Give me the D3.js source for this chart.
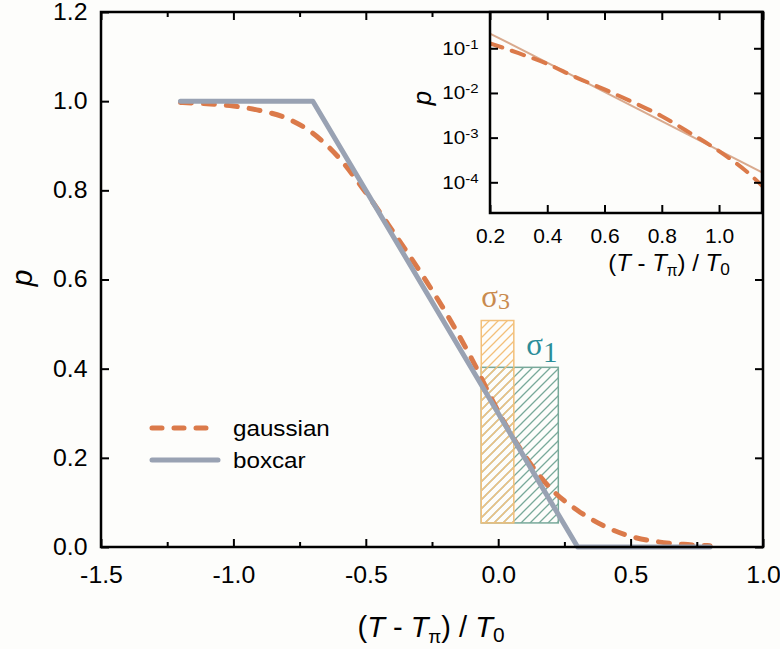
<!DOCTYPE html>
<html>
<head>
<meta charset="utf-8">
<script src="https://cdn.jsdelivr.net/npm/d3@7"></script>
<style>
body{margin:0;background:#fdfdfb;}
svg{display:block;}
text{font-family:"Liberation Sans",Arial,sans-serif;}
</style>
</head>
<body>
<script>

// main panel: survival probability vs (T - Tpi)/T0
var gaussX = [-1.2,-1.1,-1.0,-0.9,-0.8,-0.7,-0.6,-0.5,-0.4,-0.3,-0.2,-0.1,0.0,0.1,0.2,0.3,0.4,0.5,0.6,0.7,0.8];
var gaussP = [0.997,0.994,0.989,0.979,0.962,0.928,0.872,0.795,0.710,0.622,0.528,0.422,0.304,0.205,0.130,0.082,0.047,0.024,0.012,0.006,0.003];
var boxX = [-1.2,-0.7,0.3,0.8];
var boxP = [1,1,0,0];

// inset: gaussian tail on log scale and its exponential fit
var tailX = [0.2,0.3,0.4,0.5,0.6,0.7,0.8,0.9,1.0,1.1,1.2];
var tailP = [0.129,0.0776,0.0447,0.0224,0.0120,0.00617,0.00302,0.00126,0.00050,0.000166,0.00004];
var fitX = [0.2,1.15];
var fitP = [0.214,0.000166];

// hatched sigma boxes
var sigmaSub = ["1","3"];
var sigmaLeft = [-0.064,-0.064];
var sigmaRight = [0.227,0.059];
var sigmaTop = [0.403,0.508];
var sigmaBottom = [0.054,0.054];

// ticks
var xTicks = [-1.5,-1.0,-0.5,0.0,0.5,1.0];
var xMinor = [-1.25,-0.75,-0.25,0.25,0.75];
var yTicks = [0,0.2,0.4,0.6,0.8,1.0,1.2];
var insetXTicks = [0.2,0.4,0.6,0.8,1.0];
var insetYTicks = [1e-1,1e-2,1e-3,1e-4];
var legendNames = ["gaussian","boxcar"];

var w = 780, h = 649;
var gaussColor = "#db7a4a", boxColor = "#99a2b3", fitColor = "#d9aa8e";
var sigmaColor = ["#78a99a","#f3c07a"];
var sigmaText = ["#2b8d99","#c98b4e"];

var svg = d3.select("body").append("svg")
	.attr("width",w)
	.attr("height",h);

var m = {left:101, right:763, top:12, bottom:547};

var x = d3.scaleLinear().domain([-1.5,1.0]).range([m.left,m.right]);
var y = d3.scaleLinear().domain([0,1.2]).range([m.bottom,m.top]);

var defs = svg.append("defs");
sigmaColor.forEach(function(c,i){
	defs.append("pattern")
		.attr("id","hatch"+i)
		.attr("patternUnits","userSpaceOnUse")
		.attr("width",9)
		.attr("height",9)
		.append("path")
		.attr("d","M0,9 L9,0 M-1,1 L1,-1 M8,10 L10,8")
		.attr("stroke",c)
		.attr("stroke-width",1.3);
});

// sigma boxes
var idx = d3.range(sigmaSub.length);
svg.selectAll(".sigma")
	.data(idx)
	.enter()
	.append("rect")
	.attr("class","sigma")
	.attr("x",function(i){return x(sigmaLeft[i]);})
	.attr("y",function(i){return y(sigmaTop[i]);})
	.attr("width",function(i){return x(sigmaRight[i]) - x(sigmaLeft[i]);})
	.attr("height",function(i){return y(sigmaBottom[i]) - y(sigmaTop[i]);})
	.attr("fill",function(i){return "url(#hatch"+i+")";})
	.attr("stroke",function(i){return sigmaColor[i];})
	.attr("stroke-width",1.5);

var sigLab = svg.selectAll(".siglab")
	.data(idx)
	.enter()
	.append("text")
	.attr("class","siglab")
	.attr("x",function(i){return i==0 ? x(sigmaRight[i]) - 32 : x(sigmaLeft[i]) + 0;})
	.attr("y",function(i){return i==0 ? y(sigmaTop[i]) - 12 : y(sigmaTop[i]) - 14;})
	.attr("fill",function(i){return sigmaText[i];})
	.style("font-family","'Liberation Serif','Times New Roman',serif")
	.attr("font-size",31);
sigLab.append("tspan").text("σ");
sigLab.append("tspan")
	.attr("font-size",function(i){return i==0 ? 29 : 24;})
	.attr("dy",function(i){return i==0 ? 7 : 2;})
	.text(function(i){return sigmaSub[i];});

// curves
var line = d3.line()
	.x(function(d){return x(d[0]);})
	.y(function(d){return y(d[1]);});

svg.append("path")
	.datum(gaussX.map(function(v,i){return [v,gaussP[i]];}))
	.attr("d",line.curve(d3.curveMonotoneX))
	.attr("fill","none")
	.attr("stroke",gaussColor)
	.attr("stroke-width",5)
	.attr("stroke-dasharray","11,12")
	.attr("stroke-linecap","round");

svg.append("path")
	.datum(boxX.map(function(v,i){return [v,boxP[i]];}))
	.attr("d",line.curve(d3.curveLinear))
	.attr("fill","none")
	.attr("stroke",boxColor)
	.attr("stroke-width",5)
	.attr("stroke-linecap","round")
	.attr("stroke-linejoin","round");

// legend
var leg = svg.append("g");
legendNames.forEach(function(n,i){
	var ly = 428 + i*32;
	leg.append("line")
		.attr("x1",152).attr("x2",i==0 ? 210 : 218)
		.attr("y1",ly).attr("y2",ly)
		.attr("stroke",i==0 ? gaussColor : boxColor)
		.attr("stroke-width",5)
		.attr("stroke-linecap","round")
		.attr("stroke-dasharray",i==0 ? "10,12" : null);
	leg.append("text")
		.attr("transform","translate(233,"+(ly+8)+") scale(1.1,1)")
		.attr("font-size",22)
		.text(n);
});

// frame and axes
function styleAxis(g){
	g.select(".domain").remove();
	g.selectAll("line").attr("stroke","#000").attr("stroke-width",2);
	g.attr("font-family",null).attr("font-size",23);
	g.selectAll("text").attr("fill","#000");
}

svg.append("g")
	.attr("transform","translate(0,"+m.bottom+")")
	.call(d3.axisBottom(x).tickValues(xTicks).tickSize(-8).tickPadding(20).tickFormat(function(d){return d.toFixed(1);}))
	.call(styleAxis)
	.selectAll("text").attr("transform","scale(1.08,1)");
svg.append("g")
	.attr("transform","translate(0,"+m.bottom+")")
	.call(d3.axisBottom(x).tickValues(xMinor).tickSize(-5).tickFormat(""))
	.call(styleAxis);
svg.append("g")
	.attr("transform","translate(0,"+m.top+")")
	.call(d3.axisTop(x).tickValues(xTicks).tickSize(-8).tickFormat(""))
	.call(styleAxis);
svg.append("g")
	.attr("transform","translate(0,"+m.top+")")
	.call(d3.axisTop(x).tickValues(xMinor).tickSize(-5).tickFormat(""))
	.call(styleAxis);
svg.append("g")
	.attr("transform","translate("+m.left+",0)")
	.call(d3.axisLeft(y).tickValues(yTicks).tickSize(-8).tickPadding(12.5).tickFormat(function(d){return d.toFixed(1);}))
	.call(styleAxis)
	.selectAll("text").attr("transform","scale(1.08,1)");
svg.append("g")
	.attr("transform","translate("+m.right+",0)")
	.call(d3.axisRight(y).tickValues(yTicks).tickSize(-8).tickFormat(""))
	.call(styleAxis);

svg.append("rect")
	.attr("x",m.left).attr("y",m.top)
	.attr("width",m.right-m.left).attr("height",m.bottom-m.top)
	.attr("fill","none").attr("stroke","#000").attr("stroke-width",2.5);

// axis titles
function tTitle(sel, size){
	sel.append("tspan").text("(");
	sel.append("tspan").attr("font-style","italic").text("T");
	sel.append("tspan").text(" - ");
	sel.append("tspan").attr("font-style","italic").text("T");
	sel.append("tspan").attr("font-size",size*0.65).attr("dy",size*0.2).text("π");
	sel.append("tspan").attr("dy",-size*0.2).text(") / ");
	sel.append("tspan").attr("font-style","italic").text("T");
	sel.append("tspan").attr("font-size",size*0.72).attr("dy",size*0.18).text("0");
}

svg.append("text")
	.attr("x",431).attr("y",637)
	.attr("text-anchor","middle")
	.attr("font-size",29)
	.call(tTitle,29);

svg.append("text")
	.attr("transform","translate(32,278) rotate(-90)")
	.attr("text-anchor","middle")
	.attr("font-size",30)
	.attr("font-style","italic")
	.text("p");

// inset
var ib = {left:490, right:762, top:12, bottom:213};
var ix = d3.scaleLinear().domain([0.2,1.15]).range([ib.left,ib.right]);
var iy = d3.scaleLog().domain([Math.pow(10,-4.687),Math.pow(10,-0.188)]).range([ib.bottom,ib.top]);

svg.append("rect")
	.attr("x",ib.left).attr("y",ib.top)
	.attr("width",ib.right-ib.left).attr("height",ib.bottom-ib.top)
	.attr("fill","#fdfdfb");

defs.append("clipPath").attr("id","iclip")
	.append("rect")
	.attr("x",ib.left).attr("y",ib.top)
	.attr("width",ib.right-ib.left).attr("height",ib.bottom-ib.top);

var iline = d3.line()
	.x(function(d){return ix(d[0]);})
	.y(function(d){return iy(d[1]);});

var ig = svg.append("g").attr("clip-path","url(#iclip)");
ig.append("path")
	.datum(fitX.map(function(v,i){return [v,fitP[i]];}))
	.attr("d",iline)
	.attr("fill","none")
	.attr("stroke",fitColor)
	.attr("stroke-width",2);
ig.append("path")
	.datum(tailX.map(function(v,i){return [v,tailP[i]];}))
	.attr("d",iline.curve(d3.curveMonotoneX))
	.attr("fill","none")
	.attr("stroke",gaussColor)
	.attr("stroke-width",4)
	.attr("stroke-dasharray","13,10")
	.attr("stroke-linecap","round");

svg.append("g")
	.attr("transform","translate(0,"+ib.bottom+")")
	.call(d3.axisBottom(ix).tickValues(insetXTicks).tickSize(-8).tickPadding(16).tickFormat(function(d){return d.toFixed(1);}))
	.call(styleAxis)
	.call(function(g){g.attr("font-size",20);})
	.selectAll("text").attr("transform","scale(1.05,1)");
svg.append("g")
	.attr("transform","translate(0,"+ib.top+")")
	.call(d3.axisTop(ix).tickValues(insetXTicks).tickSize(-8).tickFormat(""))
	.call(styleAxis);
svg.append("g")
	.attr("transform","translate("+ib.left+",0)")
	.call(d3.axisLeft(iy).tickValues(insetYTicks).tickSize(-8).tickPadding(10).tickFormat(function(){return "10";}))
	.call(styleAxis)
	.call(function(g){g.attr("font-size",18);})
	.selectAll(".tick text")
	.attr("transform","scale(1.15,1)")
	.each(function(d){
		d3.select(this).append("tspan")
			.attr("dy","-0.45em")
			.attr("font-size",13)
			.text(Math.round(Math.log10(d)));
	});
svg.append("g")
	.attr("transform","translate("+ib.right+",0)")
	.call(d3.axisRight(iy).tickValues(insetYTicks).tickSize(-8).tickFormat(""))
	.call(styleAxis);

svg.append("rect")
	.attr("x",ib.left).attr("y",ib.top)
	.attr("width",ib.right-ib.left).attr("height",ib.bottom-ib.top)
	.attr("fill","none").attr("stroke","#000").attr("stroke-width",2.5);

svg.append("text")
	.attr("x",669).attr("y",271)
	.attr("text-anchor","middle")
	.attr("font-size",24)
	.call(tTitle,24);

svg.append("text")
	.attr("transform","translate(431,98) rotate(-90)")
	.attr("text-anchor","middle")
	.attr("font-size",26)
	.attr("font-style","italic")
	.text("p");

</script>
</body>
</html>
